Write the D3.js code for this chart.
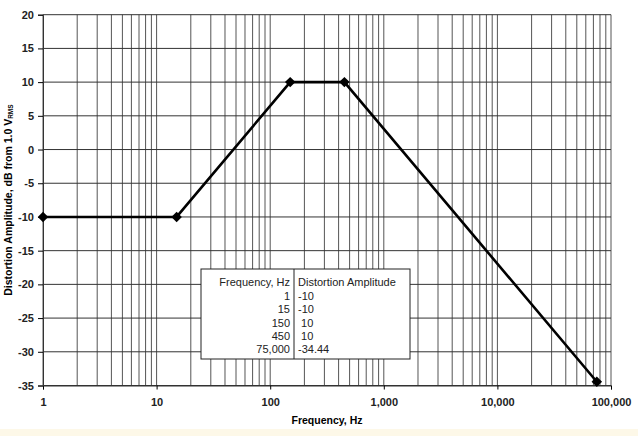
<!DOCTYPE html>
<html><head><meta charset="utf-8">
<script src="https://cdn.jsdelivr.net/npm/d3@7"></script>
<style>body{margin:0;background:#fff;}svg{display:block;}</style>
</head><body>
<svg id="c" width="638" height="436"></svg>
<script>
const freqs = [1, 15, 150, 450, 75000];
const amps = [-10, -10, 10, 10, -34.44];
const freqLabels = ["1", "15", "150", "450", "75,000"];
const ampLabels = ["-10", "-10", " 10", " 10", "-34.44"];
const xTickValues = [1, 10, 100, 1000, 10000, 100000];
const xTickLabels = ["1", "10", "100", "1,000", "10,000", "100,000"];
const yTickValues = [20, 15, 10, 5, 0, -5, -10, -15, -20, -25, -30, -35];

const svg = d3.select("#c");
const W = 638, H = 436;
const m = {l: 43, r: 611, t: 14.7, b: 385.5};
svg.append("rect").attr("x",0).attr("y",429).attr("width",W).attr("height",H-429).attr("fill","#fdf8e8");

const x = d3.scaleLog().domain([1,100000]).range([m.l, m.r]);
const y = d3.scaleLinear().domain([-35,20]).range([m.b, m.t]);

// minor vertical grid
const minor = [];
for (let d=1; d<100000; d*=10) for (let k=1;k<10;k++) minor.push(d*k);
minor.push(100000);
const g = svg.append("g");
g.selectAll(".vg").data(minor).join("line")
  .attr("x1",d=>x(d)).attr("x2",d=>x(d)).attr("y1",m.t).attr("y2",m.b)
  .attr("stroke","#555").attr("stroke-width",1);
g.selectAll(".hg").data(yTickValues).join("line")
  .attr("x1",m.l).attr("x2",m.r).attr("y1",d=>y(d)).attr("y2",d=>y(d))
  .attr("stroke","#333").attr("stroke-width",1);

const tickFont = s => s.attr("font-family","Liberation Sans, Arial").attr("font-size",11).attr("font-weight","bold").attr("fill","#222");
// axes
const xAxis = d3.axisBottom(x).tickValues(xTickValues).tickFormat((d,i)=>xTickLabels[i]).tickSize(4).tickPadding(9);
const ax = svg.append("g").attr("transform",`translate(0,${m.b})`).call(xAxis);
ax.select(".domain").attr("stroke","#333");
tickFont(ax.selectAll("text"));
const yAxis = d3.axisLeft(y).tickValues(yTickValues).tickFormat(d=>String(d)).tickSize(5).tickPadding(4);
const ay = svg.append("g").attr("transform",`translate(${m.l},0)`).call(yAxis);
ay.select(".domain").attr("stroke","#333");
tickFont(ay.selectAll("text"));

// data line
const pts = freqs.map((f,i)=>[x(f), y(amps[i])]);
svg.append("path").attr("d", d3.line()(pts)).attr("fill","none").attr("stroke","#000").attr("stroke-width",2.6);
svg.selectAll(".mk").data(pts).join("path")
  .attr("d", d3.symbol(d3.symbolDiamond2 || d3.symbolDiamond, 70)())
  .attr("transform",d=>`translate(${d[0]},${d[1]})`).attr("fill","#000");

// titles
svg.append("text").attr("x",(m.l+m.r)/2).attr("y",424).attr("text-anchor","middle")
  .attr("font-family","Liberation Sans, Arial").attr("font-size",10.5).attr("font-weight","bold").text("Frequency, Hz");
const yt = svg.append("text").attr("transform",`translate(12,${(m.t+m.b)/2}) rotate(-90)`).attr("text-anchor","middle")
  .attr("font-family","Liberation Sans, Arial").attr("font-size",10.5).attr("font-weight","bold");
yt.append("tspan").text("Distortion Amplitude, dB from 1.0 V");
yt.append("tspan").attr("font-size",6.5).attr("dy",1).text("RMS");

// table
const tb = {x0:201, x1:410, y0:269, y1:359, div:294};
svg.append("rect").attr("x",tb.x0).attr("y",tb.y0).attr("width",tb.x1-tb.x0).attr("height",tb.y1-tb.y0)
  .attr("fill","#fff").attr("stroke","#222").attr("stroke-width",1);
svg.append("line").attr("x1",tb.div).attr("x2",tb.div).attr("y1",tb.y0).attr("y2",tb.y1).attr("stroke","#222");
const tf = {"font-family":"Liberation Sans, Arial","font-size":11,"fill":"#222"};
function txt(t,xx,yy,anchor){const e=svg.append("text").attr("x",xx).attr("y",yy).attr("text-anchor",anchor).text(t);for(const k in tf)e.attr(k,tf[k]);e.attr("xml:space","preserve");return e;}
txt("Frequency, Hz", tb.div-4, 286, "end");
txt("Distortion Amplitude", tb.div+4, 286, "start");
freqLabels.forEach((f,i)=>{
  const yy = 300 + i*13.3;
  txt(f, tb.div-4, yy, "end");
  txt(ampLabels[i], tb.div+4, yy, "start");
});
</script>
</body></html>
